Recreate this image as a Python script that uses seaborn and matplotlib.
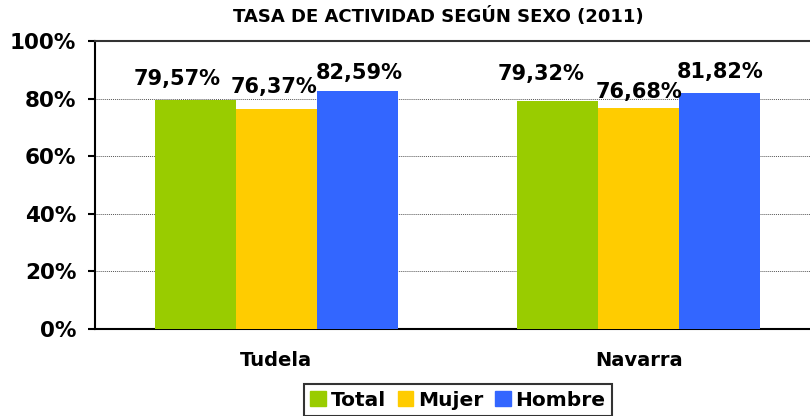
import pandas as pd
import numpy as np
import matplotlib
matplotlib.use("Agg")
import matplotlib.pyplot as plt
from matplotlib.ticker import PercentFormatter, FixedLocator
import seaborn as sns

# datos
zonas = ["Tudela", "Navarra"]
sexos = ["Total", "Mujer", "Hombre"]
total = [79.57, 79.32]
mujer = [76.37, 76.68]
hombre = [82.59, 81.82]

colores = ["#99CC00", "#FFCC00", "#3366FF"]

df = pd.DataFrame({
    "zona": zonas * 3,
    "sexo": [s for s in sexos for _ in zonas],
    "tasa": total + mujer + hombre,
})

sns.set_style("white")
plt.rcParams["font.family"] = ["DejaVu Sans"]
plt.rcParams["font.weight"] = "bold"
plt.rcParams["text.color"] = "black"
plt.rcParams["xtick.color"] = "black"
plt.rcParams["ytick.color"] = "black"

fig = plt.figure(figsize=(8.1, 4.16), dpi=100)
ax = fig.add_axes([95 / 810, 1 - 329 / 416, 725 / 810, 288 / 416])

sns.barplot(data=df, x="zona", y="tasa", hue="sexo", hue_order=sexos,
            order=zonas, palette=colores, width=0.67, saturation=1,
            edgecolor="none", ax=ax, legend=True, zorder=3)

ax.set_ylim(0, 100)
ax.set_xlim(-0.5, 1.5)
ax.yaxis.set_major_locator(FixedLocator([0, 20, 40, 60, 80, 100]))
ax.yaxis.set_major_formatter(PercentFormatter(decimals=0))
ax.grid(axis="y", color="#555555", linestyle=(0, (1, 1)), linewidth=0.7, zorder=0)
ax.set_axisbelow(True)

# ticks de categoría: etiquetas sin marca, marca entre grupos
ax.set_xticks([-0.5, 0.5, 1.5])
ax.set_xticklabels([])
ax.set_xticks([0, 1], minor=True)
ax.set_xticklabels(zonas, minor=True, fontsize=14, fontweight="bold")
ax.tick_params(axis="x", which="minor", length=0, pad=16)
ax.tick_params(axis="x", which="major", length=6, width=1.5, direction="out", color="black")
ax.tick_params(axis="y", length=5, width=1.5, direction="out", color="black",
               labelsize=15.5, pad=8.5, left=True)
for lab in ax.get_yticklabels():
    lab.set_fontweight("bold")
ax.set_xlabel("")
ax.set_ylabel("")

for side in ["left", "bottom", "top"]:
    ax.spines[side].set_color("black")
    ax.spines[side].set_linewidth(1.5)
ax.spines["top"].set_color("#333333")
ax.spines["right"].set_visible(False)

# etiquetas de datos (desplazamientos en pixeles)
desplaz = {
    ("Tudela", "Total"): (-18, 21), ("Tudela", "Mujer"): (-2, 22), ("Tudela", "Hombre"): (2, 18),
    ("Navarra", "Total"): (-17, 27), ("Navarra", "Mujer"): (0, 16), ("Navarra", "Hombre"): (0, 21),
}
for cont, sexo in zip(ax.containers, sexos):
    for bar, zona in zip(cont, zonas):
        h = bar.get_height()
        dx, dy = desplaz[(zona, sexo)]
        ax.annotate(f"{h:.2f}%".replace(".", ","),
                    (bar.get_x() + bar.get_width() / 2, h),
                    xytext=(dx, dy), textcoords="offset pixels",
                    ha="center", va="center", fontsize=15, fontweight="bold")

ax.legend_.remove()
handles = [plt.Rectangle((0, 0), 1, 1, color=c) for c in colores]
leg = fig.legend(handles, sexos, loc="center", bbox_to_anchor=(458 / 810, 1 - 400 / 416),
                 ncol=3, frameon=True, fancybox=False, edgecolor="black",
                 prop={"size": 14.5, "weight": "bold"}, handlelength=0.75, handleheight=0.75,
                 handletextpad=0.25, columnspacing=0.6, borderpad=0.3)
leg.get_frame().set_linewidth(1.5)

fig.text(438 / 810, 1 - 17 / 416, "TASA DE ACTIVIDAD SEGÚN SEXO (2011)",
         ha="center", va="center", fontsize=13, fontweight="bold")

fig.savefig("out.png", dpi=100)
